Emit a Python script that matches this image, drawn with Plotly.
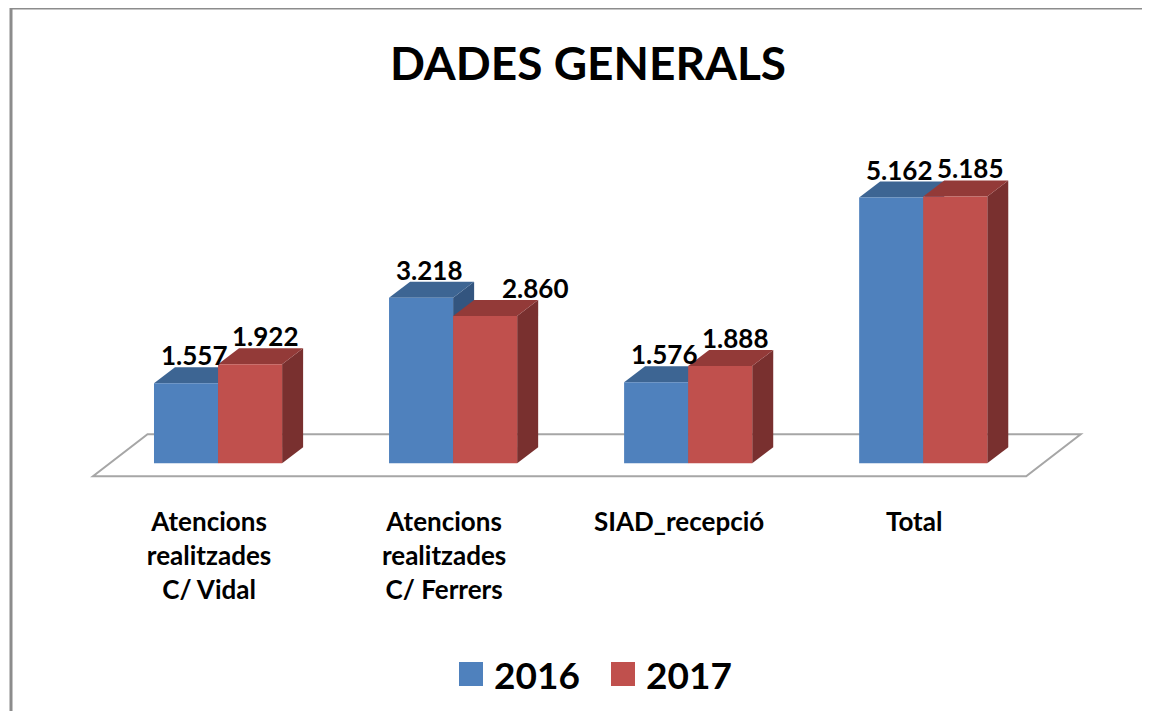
import plotly.graph_objects as go

# ---------------- data ----------------
categories = ["Atencions<br>realitzades<br>C/ Vidal",
              "Atencions<br>realitzades<br>C/ Ferrers",
              "SIAD_recepció",
              "Total"]
series_names = ["2016", "2017"]
values_2016 = [1557, 3218, 1576, 5162]
values_2017 = [1922, 2860, 1888, 5185]
title_text = "DADES GENERALS"

# ---------------- layout constants ----------------
OFF = 8  # page offset of the figure (body margin)
FIG_W, FIG_H = 1150 - 2 * OFF, 719 - 2 * OFF
PW, PH = 1093, 386
ML, MT = 30 - OFF, 103 - OFF
MR = FIG_W - ML - PW
MB = FIG_H - MT - PH
X_RANGE = [-0.8, 3.85]
Y_RANGE = [-500, 7000]

FONT = "Lato, 'Open Sans', sans-serif"

BLUE = dict(front="#4F81BD", top="#3D6593", side="#33557F")
RED = dict(front="#C0504D", top="#933A38", side="#79302F")

BAR_W = 0.2725      # width of each bar (category units)
DX = 0.0894         # 3D depth offset (category units)
DY = 311            # 3D depth offset (value units)


def px_x(px):
    return (px - OFF - ML) / PW


def px_y(py):
    return 1 - (py - OFF - MT) / PH


def fmt(v):
    return f"{v:,}".replace(",", ".")


def poly(pts):
    return "M " + " L ".join(f"{x},{y}" for x, y in pts) + " Z"


xs = list(range(len(categories)))
shapes = []

# floor
floor_front, floor_back = -253, 564
shapes.append(dict(type="path", xref="x", yref="y", layer="below",
                   path=poly([(-0.532, floor_front), (3.438, floor_front),
                              (3.67, floor_back), (-0.30, floor_back)]),
                   fillcolor="white", line=dict(color="#A6A6A6", width=2)))

# 3D faces (top & side) for each bar, blue first then red
for i, (vb, vr) in enumerate(zip(values_2016, values_2017)):
    bx0, bx1 = i - BAR_W, i
    rx1, rx2 = i, i + BAR_W
    shapes.append(dict(type="path", xref="x", yref="y", layer="below",
                       path=poly([(bx1, 0), (bx1, vb), (bx1 + DX, vb + DY), (bx1 + DX, DY)]),
                       fillcolor=BLUE["side"], line=dict(width=0)))
    shapes.append(dict(type="path", xref="x", yref="y", layer="below",
                       path=poly([(bx0, vb), (bx1, vb), (bx1 + DX, vb + DY), (bx0 + DX, vb + DY)]),
                       fillcolor=BLUE["top"], line=dict(width=0)))
    shapes.append(dict(type="path", xref="x", yref="y", layer="below",
                       path=poly([(rx2, 0), (rx2, vr), (rx2 + DX, vr + DY), (rx2 + DX, DY)]),
                       fillcolor=RED["side"], line=dict(width=0)))
    shapes.append(dict(type="path", xref="x", yref="y", layer="below",
                       path=poly([(rx1, vr), (rx2, vr), (rx2 + DX, vr + DY), (rx1 + DX, vr + DY)]),
                       fillcolor=RED["top"], line=dict(width=0)))

fig = go.Figure()
fig.add_trace(go.Bar(x=xs, y=values_2016, name=series_names[0], width=BAR_W, offset=-BAR_W,
                     marker=dict(color=BLUE["front"], line=dict(width=0)), showlegend=False,
                     hoverinfo="skip"))
fig.add_trace(go.Bar(x=xs, y=values_2017, name=series_names[1], width=BAR_W, offset=0,
                     marker=dict(color=RED["front"], line=dict(width=0)), showlegend=False,
                     hoverinfo="skip"))

annotations = []
# data labels
for i, (vb, vr) in enumerate(zip(values_2016, values_2017)):
    annotations.append(dict(x=i - BAR_W / 2, y=vb + DY, xref="x", yref="y", text=fmt(vb),
                            showarrow=False, xanchor="center", yanchor="middle",
                            xshift=8, yshift=12,
                            font=dict(family=FONT, size=26, color="black", weight="bold")))
    extra = 35 if vb > vr else 0
    annotations.append(dict(x=i + BAR_W / 2, y=vr + DY, xref="x", yref="y", text=fmt(vr),
                            showarrow=False, xanchor="center", yanchor="middle",
                            xshift=15 + extra, yshift=12,
                            font=dict(family=FONT, size=26, color="black", weight="bold")))

# legend (manual, larger swatches)
legend_items = [(series_names[0], BLUE["front"], 459), (series_names[1], RED["front"], 611)]
for name, col, lx in legend_items:
    shapes.append(dict(type="rect", xref="paper", yref="paper", layer="above",
                       x0=px_x(lx), x1=px_x(lx + 24), y0=px_y(686), y1=px_y(662),
                       fillcolor=col, line=dict(width=0)))
    annotations.append(dict(x=px_x(lx + 33), y=px_y(674), xref="paper", yref="paper",
                            text=name, showarrow=False, xanchor="left", yanchor="middle",
                            font=dict(family=FONT, size=37, color="black", weight="bold")))

# chart border (top and left, like the cropped reference)
border = dict(color="#8C8C8C", width=3)
shapes.append(dict(type="line", xref="paper", yref="paper", layer="above",
                   x0=px_x(11), x1=px_x(1170), y0=px_y(8), y1=px_y(8), line=border))
shapes.append(dict(type="line", xref="paper", yref="paper", layer="above",
                   x0=px_x(11), x1=px_x(11), y0=px_y(8), y1=px_y(740), line=border))

fig.update_layout(
    width=FIG_W, height=FIG_H,
    margin=dict(l=ML, r=MR, t=MT, b=MB, autoexpand=False),
    paper_bgcolor="white", plot_bgcolor="white",
    barmode="overlay",
    title=dict(text=title_text, x=(588 - OFF) / FIG_W, xref="container", xanchor="center",
               y=1 - (64 - OFF) / FIG_H, yref="container", yanchor="middle",
               font=dict(family=FONT, size=46, color="black", weight="bold")),
    xaxis=dict(range=X_RANGE, tickmode="array", tickvals=xs, ticktext=categories,
               showgrid=False, zeroline=False, showline=False, ticks="",
               ticklabelstandoff=15, ticklabelshift=-9,
               tickfont=dict(family=FONT, size=26, color="black", weight="bold")),
    yaxis=dict(range=Y_RANGE, visible=False, showgrid=False, zeroline=False),
    shapes=shapes,
    annotations=annotations,
    showlegend=False,
)

fig.write_html("out.html", config={"displayModeBar": False})
